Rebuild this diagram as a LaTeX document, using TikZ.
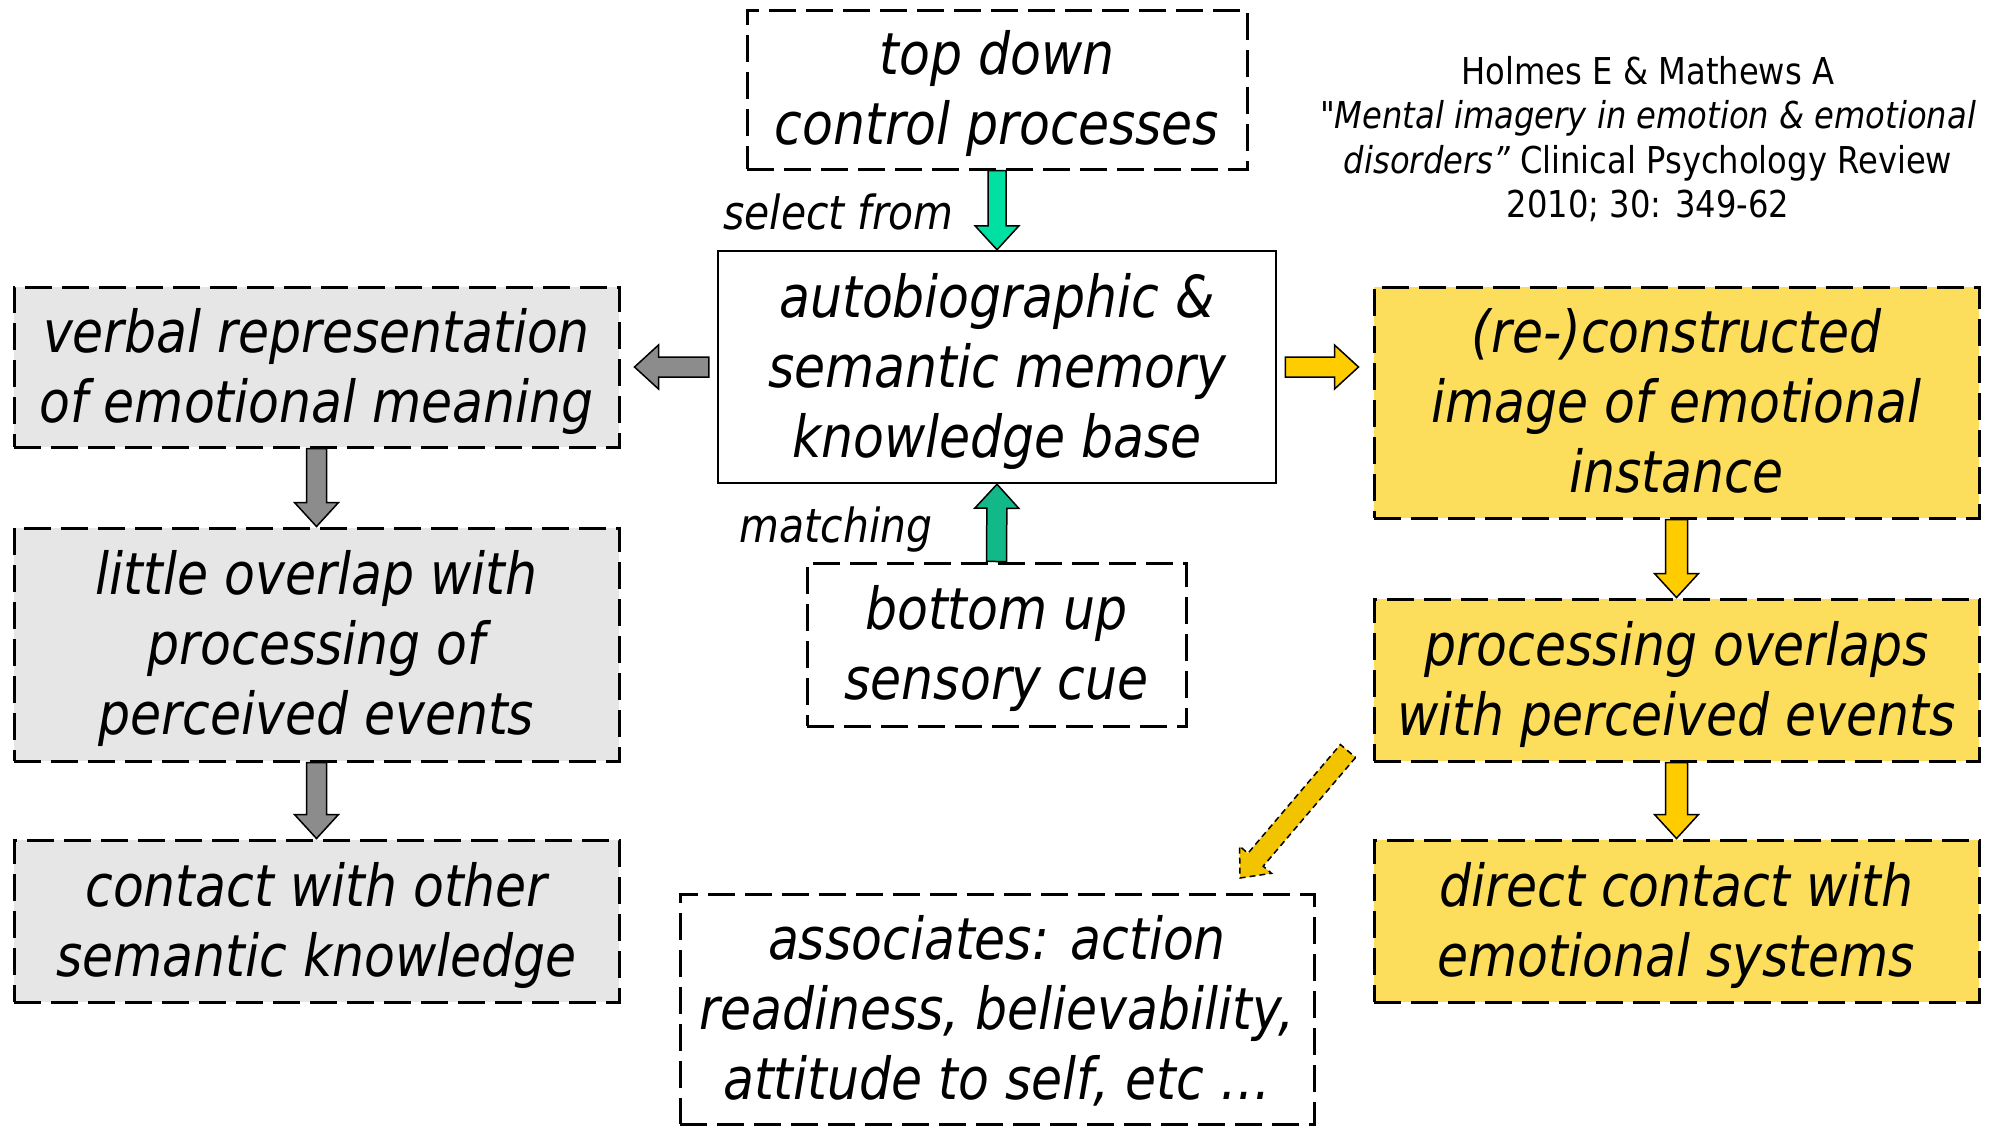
\documentclass[tikz,border=0pt]{standalone}
\usepackage{fontspec}
\usetikzlibrary{calc}
\newfontfamily\dvsans{DejaVu Sans}[FakeStretch=0.87, ItalicFont={DejaVu Sans Oblique}]
\newcommand\boxfont{\dvsans\itshape\fontsize{58}{70}\selectfont}
\newcommand\lblfont{\dvsans\itshape\fontsize{47}{56}\selectfont}
\newcommand\citefont{\dvsans\fontsize{37}{44.5}\selectfont}
% centred lines of box text, set a little below the middle of the box
\newcommand\bt[1]{\raisebox{0pt}[\dimexpr\height+12pt\relax][\depth]{%
  \begin{tabular}{@{}c@{}}#1\end{tabular}}}
\definecolor{boxgray}{HTML}{E6E6E6}
\definecolor{boxyellow}{HTML}{FCDE5C}
\definecolor{arryellow}{HTML}{FFCC00}
\definecolor{diagyellow}{HTML}{F2C400}
\definecolor{tealA}{HTML}{00E0A2}
\definecolor{tealB}{HTML}{12B888}
\definecolor{arrgray}{HTML}{8C8C8C}
% block arrow: style, half shaft width, half head width, head length, from, to
\newcommand\blockarrow[6]{%
  \draw[#1] ($(#5)!#2!90:(#6)$) -- ($(#6)!#4!(#5)!#2!-90:(#5)$)
    -- ($(#6)!#4!(#5)!#3!-90:(#5)$) -- (#6)
    -- ($(#6)!#4!(#5)!#3!90:(#5)$) -- ($(#6)!#4!(#5)!#2!90:(#5)$)
    -- ($(#5)!#2!-90:(#6)$) -- cycle;}
\begin{document}
\begin{tikzpicture}[x=1pt,y=-1pt,
  dbox/.style={draw=black, line width=3pt, dash pattern=on 27pt off 10pt,
    inner sep=0pt, font=\boxfont},
  graybox/.style={dbox, fill=boxgray},
  yelbox/.style={dbox, fill=boxyellow},
  plainbox/.style={dbox, fill=white},
  solidbox/.style={draw=black, line width=2.5pt, fill=white, inner sep=0pt,
    font=\boxfont},
  lbl/.style={font=\lblfont, inner sep=0pt},
  arrline/.style={draw=black, line width=1.5pt, line join=miter},
  garrow/.style={arrline, fill=arrgray},
  yarrow/.style={arrline, fill=arryellow},
  tarrowA/.style={arrline, fill=tealA},
  tarrowB/.style={arrline, fill=tealB},
  darrow/.style={draw=black, line width=1.5pt, dash pattern=on 6pt off 4pt, fill=diagyellow}]
\fill[white] (0,0) rectangle (1989,1127);
\useasboundingbox (0,0) rectangle (1989,1127);

% central column
\node[plainbox, minimum width=500pt, minimum height=159pt] (top) at (997,89.5)
  {\bt{top down\\control processes}};
\node[solidbox, minimum width=558pt, minimum height=232pt] (mem) at (997,367)
  {\bt{autobiographic \&\\semantic memory\\knowledge base}};
\node[plainbox, minimum width=379pt, minimum height=163pt] (bu) at (996.5,644.5)
  {\bt{bottom up\\sensory cue}};
\node[plainbox, minimum width=634pt, minimum height=230pt] (assoc) at (997,1009)
  {\bt{associates: action\\readiness, believability,\\attitude to self, etc \dots}};

% left column
\node[graybox, minimum width=605pt, minimum height=160pt] (L1) at (316.5,367)
  {\bt{verbal representation\\of emotional meaning}};
\node[graybox, minimum width=605pt, minimum height=233pt] (L2) at (316.5,644.5)
  {\bt{little overlap with\\processing of\\perceived events}};
\node[graybox, minimum width=605pt, minimum height=162pt] (L3) at (316.5,921)
  {\bt{contact with other\\semantic knowledge}};

% right column
\node[yelbox, minimum width=605pt, minimum height=231pt] (R1) at (1676.5,402.5)
  {\bt{(re-)constructed\\image of emotional\\instance}};
\node[yelbox, minimum width=605pt, minimum height=162pt] (R2) at (1676.5,680)
  {\bt{processing overlaps\\with perceived events}};
\node[yelbox, minimum width=605pt, minimum height=162pt] (R3) at (1676.5,921)
  {\bt{direct contact with\\emotional systems}};

% labels and reference
\node[lbl, anchor=base east] (sel) at (954,229) {select from};
\node[lbl, anchor=base] (match) at (836,542) {matching};
\node[font=\citefont, align=center, inner sep=0pt] (cite) at (1648,139)
  {Holmes E \& Mathews A\\
   {\itshape "Mental imagery in emotion \& emotional}\\
   {\itshape disorders”} Clinical Psychology Review\\
   2010; 30: 349-62};

% arrow end points
\coordinate (lA) at ($(mem.west)+(-8,0)$);
\coordinate (lB) at ($(mem.west -| L1.east)+(14,0)$);
\coordinate (rA) at ($(mem.east)+(8,0)$);
\coordinate (rB) at ($(mem.east -| R1.west)+(-14,0)$);
\coordinate (dA) at (1348,751);
\coordinate (dB) at (1240,878);

% block arrows
\blockarrow{tarrowA}{9pt}{22pt}{24pt}{top.south}{mem.north}
\blockarrow{tarrowB}{10pt}{22pt}{24pt}{bu.north}{mem.south}
\blockarrow{garrow}{10pt}{22pt}{24pt}{lA}{lB}
\blockarrow{yarrow}{10pt}{22pt}{24pt}{rA}{rB}
\blockarrow{garrow}{10pt}{22pt}{24pt}{L1.south}{L2.north}
\blockarrow{garrow}{10pt}{22pt}{24pt}{L2.south}{L3.north}
\blockarrow{yarrow}{11pt}{22pt}{24pt}{R1.south}{R2.north}
\blockarrow{yarrow}{11pt}{22pt}{24pt}{R2.south}{R3.north}
\blockarrow{darrow}{10pt}{21pt}{24pt}{dA}{dB}
\end{tikzpicture}
\end{document}
